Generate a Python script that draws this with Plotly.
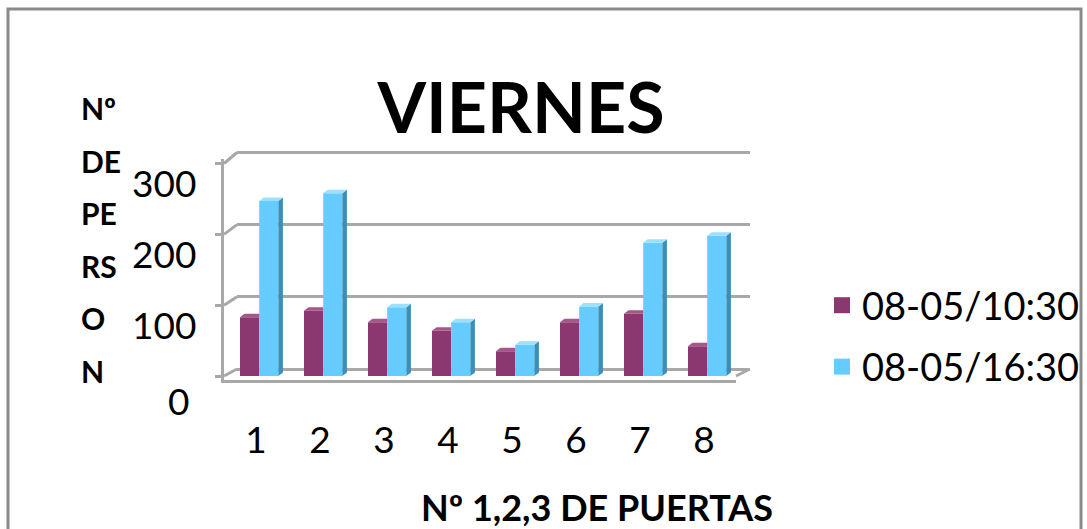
import plotly.graph_objects as go

# ---- data ----
doors = [1, 2, 3, 4, 5, 6, 7, 8]
door_labels = ["1", "2", "3", "4", "5", "6", "7", "8"]
people_1030 = [83, 92, 76, 64, 35, 76, 88, 42]
people_1630 = [247, 258, 97, 76, 44, 98, 188, 198]
series_names = ["08-05/10:30", "08-05/16:30"]
y_ticks = [0, 100, 200, 300]
y_tick_labels = ["0", "100", "200", "300"]
y_title_lines = ["Nº", "DE", "PE", "RS", "O", "N"]
chart_title = "VIERNES"
x_title = "Nº 1,2,3 DE PUERTAS"

# ---- styling ----
W, H = 1087, 529
FONT = "Lato"
PURPLE, PURPLE_TOP = "#8c3870", "#a5568b"
CYAN, CYAN_TOP, CYAN_SIDE = "#66ccff", "#9be0ff", "#3f8db7"
GRID = "#a8a8a8"

Y_LO, Y_HI = -6, 306
X_LO, X_HI = 0.5, 8.5

# pixel positions of value 0 / 300 and of the x range ends
FRONT_X = (224, 736)
FRONT_Y = (376, 163.5)
BACK_X = (237, 750)
BACK_Y = (369, 152.5)


def px(x):
    return x / W


def py(y):
    return 1 - y / H


def y_pix(v, rows):
    k = (rows[0] - rows[1]) / 300.0
    return rows[0] - v * k


def y_domain(rows):
    return [py(y_pix(Y_LO, rows)), py(y_pix(Y_HI, rows))]


def x_domain(cols):
    return [px(cols[0]), px(cols[1])]


# depth of the 3-D faces in axis units
units_per_px_y = 300.0 / (FRONT_Y[0] - FRONT_Y[1])
SIDE = 4.5 / ((FRONT_X[1] - FRONT_X[0]) / (X_HI - X_LO))
TOP = 3.5 * units_per_px_y
BAR_W = 0.30
OFF_A, OFF_B = -0.25, 0.05


def top_faces(values, offset, clip_right):
    xs, ys = [], []
    for c, v in zip(doors, values):
        l, r = c + offset, c + offset + BAR_W
        if clip_right:
            pts = [(l, v), (r, v), (r, v + TOP), (l + SIDE, v + TOP)]
        else:
            pts = [(l, v), (r, v), (r + SIDE, v + TOP), (l + SIDE, v + TOP)]
        for p in pts + [pts[0]]:
            xs.append(p[0])
            ys.append(p[1])
        xs.append(None)
        ys.append(None)
    return xs, ys


def side_faces(values, offset):
    xs, ys = [], []
    for c, v in zip(doors, values):
        r = c + offset + BAR_W
        pts = [(r, 0), (r + SIDE, TOP), (r + SIDE, v + TOP), (r, v)]
        for p in pts + [pts[0]]:
            xs.append(p[0])
            ys.append(p[1])
        xs.append(None)
        ys.append(None)
    return xs, ys


fig = go.Figure()

# back wall subplot (gridlines only)
fig.add_trace(go.Scatter(x=[None], y=[None], xaxis="x", yaxis="y",
                         showlegend=False, hoverinfo="skip"))

# front faces of the bars
fig.add_trace(go.Bar(x=doors, y=people_1030, offset=OFF_A, width=BAR_W,
                     marker=dict(color=PURPLE, line=dict(width=0)),
                     xaxis="x2", yaxis="y2", showlegend=False,
                     name=series_names[0]))
fig.add_trace(go.Bar(x=doors, y=people_1630, offset=OFF_B, width=BAR_W,
                     marker=dict(color=CYAN, line=dict(width=0)),
                     xaxis="x2", yaxis="y2", showlegend=False,
                     name=series_names[1]))

# top and side faces
tx, ty = top_faces(people_1030, OFF_A, True)
fig.add_trace(go.Scatter(x=tx, y=ty, fill="toself", fillcolor=PURPLE_TOP,
                         mode="lines", line=dict(width=0), xaxis="x2", yaxis="y2",
                         showlegend=False, hoverinfo="skip"))
sx, sy = side_faces(people_1630, OFF_B)
fig.add_trace(go.Scatter(x=sx, y=sy, fill="toself", fillcolor=CYAN_SIDE,
                         mode="lines", line=dict(width=0), xaxis="x2", yaxis="y2",
                         showlegend=False, hoverinfo="skip"))
tx, ty = top_faces(people_1630, OFF_B, False)
fig.add_trace(go.Scatter(x=tx, y=ty, fill="toself", fillcolor=CYAN_TOP,
                         mode="lines", line=dict(width=0), xaxis="x2", yaxis="y2",
                         showlegend=False, hoverinfo="skip"))

# legend entries
for name, col, grp in [(series_names[0], PURPLE, "a"), (series_names[1], CYAN, "b")]:
    fig.add_trace(go.Scatter(x=[None], y=[None], mode="markers", name=name,
                             legendgroup=grp,
                             marker=dict(symbol="square", size=20, color=col),
                             xaxis="x2", yaxis="y2"))

shapes = []
# connectors from the front axis to the back wall
for v in y_ticks:
    shapes.append(dict(type="line", xref="paper", yref="paper",
                       x0=px(FRONT_X[0]), y0=py(y_pix(v, FRONT_Y)),
                       x1=px(BACK_X[0]), y1=py(y_pix(v, BACK_Y)),
                       line=dict(color=GRID, width=3)))
# right edge of the floor
shapes.append(dict(type="line", xref="paper", yref="paper",
                   x0=px(FRONT_X[1]), y0=py(y_pix(0, FRONT_Y)),
                   x1=px(BACK_X[1]), y1=py(y_pix(0, BACK_Y)),
                   line=dict(color=GRID, width=3)))
# chart frame
shapes.append(dict(type="rect", xref="paper", yref="paper",
                   x0=px(8), y0=py(9), x1=px(1081), y1=py(560),
                   line=dict(color="#8a8a8a", width=3)))

annotations = []
# value labels of the vertical axis
for v, t in zip(y_ticks, y_tick_labels):
    if v == 0:
        annotations.append(dict(text=t, xref="paper", yref="paper",
                                x=px(178), y=py(400), xanchor="center", yanchor="middle",
                                showarrow=False, font=dict(family=FONT, size=37, color="black")))
    else:
        annotations.append(dict(text=t, xref="paper", yref="paper",
                                x=px(198), y=py(y_pix(v, FRONT_Y) + 19),
                                xanchor="right", yanchor="middle",
                                showarrow=False, font=dict(family=FONT, size=37, color="black")))
# stacked title of the vertical axis
for i, line in enumerate(y_title_lines):
    annotations.append(dict(text="<b>" + line + "</b>", xref="paper", yref="paper",
                            x=px(79), y=py(108 + i * 52.5), xanchor="left", yanchor="middle",
                            showarrow=False, font=dict(family=FONT, size=30, color="black")))
# title of the horizontal axis
annotations.append(dict(text="<b>" + x_title + "</b>", xref="paper", yref="paper",
                        x=px(597), y=py(507), xanchor="center", yanchor="middle",
                        showarrow=False, font=dict(family=FONT, size=36, color="black")))

fig.update_layout(
    width=W, height=H,
    margin=dict(l=0, r=0, t=0, b=0),
    paper_bgcolor="white",
    plot_bgcolor="rgba(0,0,0,0)",
    barmode="overlay",
    title=dict(text="<b>" + chart_title + "</b>", x=px(521), y=py(108),
               xanchor="center", yanchor="middle", xref="paper", yref="paper",
               font=dict(family=FONT, size=70, color="black")),
    xaxis=dict(domain=x_domain(BACK_X), range=[X_LO, X_HI], anchor="y",
               showgrid=False, zeroline=False, showline=False,
               showticklabels=False, ticks=""),
    yaxis=dict(domain=y_domain(BACK_Y), range=[Y_LO, Y_HI], anchor="x",
               tickvals=y_ticks, showgrid=True, gridcolor=GRID, gridwidth=3,
               zeroline=False, showline=False, showticklabels=False, ticks=""),
    xaxis2=dict(domain=x_domain(FRONT_X), range=[X_LO, X_HI], anchor="y2",
                tickvals=doors, ticktext=door_labels, ticks="",
                showgrid=False, zeroline=False, showline=True,
                linecolor=GRID, linewidth=3, ticklabelstandoff=25,
                tickfont=dict(family=FONT, size=37, color="black")),
    yaxis2=dict(domain=y_domain(FRONT_Y), range=[Y_LO, Y_HI], anchor="x2",
                tickvals=y_ticks, showticklabels=False, ticks="outside",
                ticklen=6, tickwidth=3, tickcolor=GRID,
                showgrid=False, zeroline=False, showline=True,
                linecolor=GRID, linewidth=3),
    legend=dict(x=px(822), y=py(274), xanchor="left", yanchor="top",
                bgcolor="rgba(0,0,0,0)", font=dict(family=FONT, size=38, color="black"),
                tracegroupgap=9, valign="top", itemwidth=30),
    shapes=shapes,
    annotations=annotations,
)

fig.write_html("out.html")
